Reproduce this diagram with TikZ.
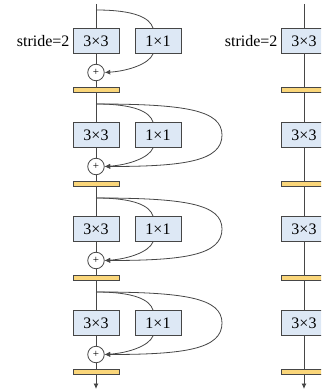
\documentclass[tikz,border=0pt]{standalone}
\usepackage{fontspec}
\setmainfont{Liberation Serif}
\usetikzlibrary{arrows.meta}
\definecolor{boxblue}{RGB}{221,232,245}
\definecolor{baryel}{RGB}{250,214,122}
\definecolor{edgec}{RGB}{70,70,70}
\begin{document}
\begin{tikzpicture}[x=1pt,y=-1pt,
  conv/.style={draw=edgec, fill=boxblue, line width=0.8pt, minimum width=46pt, minimum height=25pt, inner sep=0pt, font=\fontsize{16}{16}\selectfont},
  bn/.style={draw=edgec, fill=baryel, line width=0.8pt, minimum width=46pt, minimum height=5.5pt, inner sep=0pt},
  addc/.style={circle, draw=edgec, fill=white, line width=0.8pt, minimum size=16.5pt, inner sep=0pt, font=\fontsize{11}{11}\selectfont},
  wire/.style={draw=edgec, line width=0.8pt},
  arr/.style={-{Latex[length=5.5pt,width=5pt]}},
  lbl/.style={anchor=east, inner sep=3pt, font=\fontsize{16}{16}\selectfont}]
\useasboundingbox (0,0) rectangle (321,390);
\clip (0,0) rectangle (321,390);
% ---------- left column ----------
\coordinate (T) at (96,4);
\coordinate (E) at (96,389);
\foreach \i/\y in {1/10,2/104,3/198,4/292}{
  \coordinate (b\i) at (96,\y);
  \node[conv] (L\i) at (96,\y+31) {3×3};
  \node[conv] (O\i) at (158,\y+31) {1×1};
  \node[addc] (C\i) at (96,\y+62.5) {+};
  \node[bn] (N\i) at (96,\y+80) {};
}
\node[lbl] (S1) at (L1.west) {stride=2};
\draw[wire] (T) -- (L1);
\draw[wire] (L1) -- (C1);
\draw[wire] (C1) -- (N1);
\draw[wire] (N1) -- (L2);
\draw[wire] (L2) -- (C2);
\draw[wire] (C2) -- (N2);
\draw[wire] (N2) -- (L3);
\draw[wire] (L3) -- (C3);
\draw[wire] (C3) -- (N3);
\draw[wire] (N3) -- (L4);
\draw[wire] (L4) -- (C4);
\draw[wire] (C4) -- (N4);
\draw[wire,arr] (N4) -- (E);
\foreach \i/\y in {1/10,2/104,3/198,4/292}{
  \draw[wire] (b\i) .. controls (135,\y) and (150,\y+8) .. ([xshift=-5pt]O\i.north);
  \draw[wire,arr] ([xshift=-5pt]O\i.south) .. controls (149,\y+54) and (128,\y+61) .. (C\i.east);
}
\foreach \i/\y in {2/104,3/198,4/292}{
  \draw[wire,arr] (b\i) .. controls (185,\y) and (222,\y+6) .. (222,\y+31)
     .. controls (222,\y+57) and (185,\y+62.5) .. (C\i.east);
}
% ---------- right column ----------
\coordinate (T2) at (304,4);
\coordinate (E2) at (304,389);
\foreach \i/\y in {1/10,2/104,3/198,4/292}{
  \node[conv] (R\i) at (304,\y+31) {3×3};
  \node[bn] (M\i) at (304,\y+80) {};
}
\node[lbl] (S2) at (R1.west) {stride=2};
\draw[wire] (T2) -- (R1);
\draw[wire] (R1) -- (M1);
\draw[wire] (M1) -- (R2);
\draw[wire] (R2) -- (M2);
\draw[wire] (M2) -- (R3);
\draw[wire] (R3) -- (M3);
\draw[wire] (M3) -- (R4);
\draw[wire] (R4) -- (M4);
\draw[wire,arr] (M4) -- (E2);
\end{tikzpicture}
\end{document}
